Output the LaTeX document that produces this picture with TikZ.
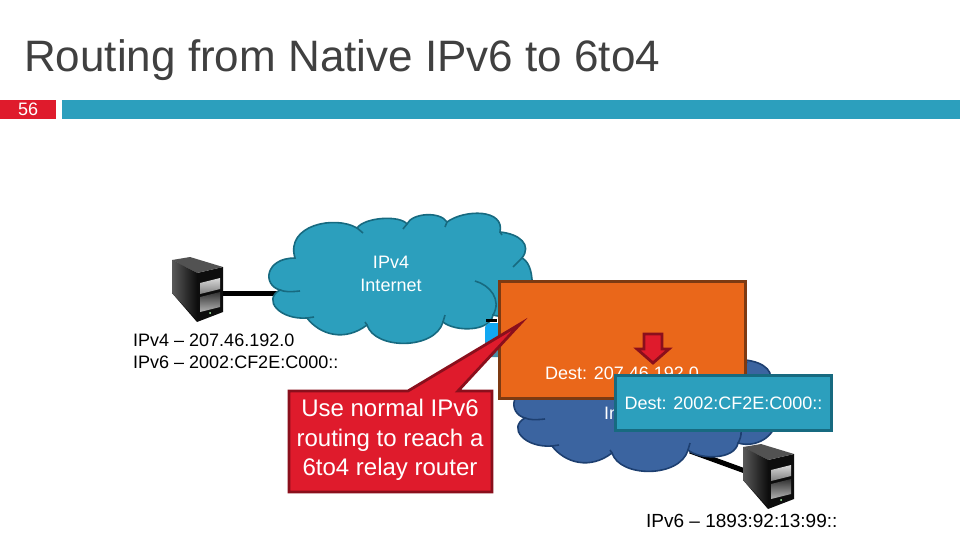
\documentclass[tikz,border=0pt]{standalone}
\usepackage{fontspec}
\setmainfont{Liberation Sans}
\usepackage{xcolor}
\usetikzlibrary{positioning,backgrounds,calc}
\definecolor{titlegray}{HTML}{404040}
\definecolor{tagred}{HTML}{DF1B2C}
\definecolor{tagdark}{HTML}{8A0F1C}
\definecolor{teal}{HTML}{2C9FBD}
\definecolor{tealdark}{HTML}{176A80}
\definecolor{navy}{HTML}{3B64A0}
\definecolor{navydark}{HTML}{1D3F70}
\definecolor{orange}{HTML}{EA671A}
\definecolor{orangedark}{HTML}{7D3A12}
\definecolor{routerblue}{HTML}{12A8F2}
\definecolor{routerbody}{HTML}{4C8EA6}
\newcommand{\netcloud}[3]{%
  \begin{scope}[shift={#1}]
    \filldraw[fill=#2,draw=#3,line width=1.6pt]
      (295,258) .. controls (285,225) and (335,215) .. (357,228)
      .. controls (365,217) and (400,215) .. (407,224)
      .. controls (412,213) and (440,211) .. (447,222)
      .. controls (465,209) and (505,209) .. (500,232)
      .. controls (520,234) and (532,245) .. (522,258)
      .. controls (530,262) and (533,275) .. (532,290)
      .. controls (530,310) and (510,320) .. (493,315)
      .. controls (490,332) and (455,332) .. (443,322)
      .. controls (435,350) and (375,350) .. (367,325)
      .. controls (345,342) and (320,335) .. (307,318)
      .. controls (280,320) and (262,300) .. (280,290)
      .. controls (262,285) and (265,258) .. cycle;
    \draw[draw=#3,line width=1.6pt]
      (280,290) .. controls (285,292) and (290,292) .. (300,291)
      (357,228) -- (363,233)
      (407,224) -- (403,229)
      (447,222) -- (445,227)
      (500,232) -- (502,235)
      (513,267) -- (522,258)
      (475,281) .. controls (490,285) and (502,300) .. (493,315)
      (443,322) -- (445,315)
      (367,325) -- (365,322)
      (307,318) -- (314,317);
  \end{scope}}
\newcommand{\servericon}[1]{%
  \begin{scope}[shift={#1}]
    \fill[black!95] (172,260) -- (197,273) -- (223,267) -- (223,312) -- (197,322) -- (172,293) -- cycle;
    \fill[black!68] (172,260) -- (190,257) -- (223,267) -- (197,273) -- cycle;
    \shade[left color=black!65,right color=black!95] (172,260) -- (197,273) -- (197,320) -- (172,293) -- cycle;
    \shade[top color=black!15,bottom color=black!50] (200,283) -- (220,278) -- (220,289) -- (200,294) -- cycle;
    \shade[top color=black!80,bottom color=black!30] (200,297) -- (220,292) -- (220,307) -- (200,312) -- cycle;
    \fill[green!30!white] (210,313) circle (1pt);
  \end{scope}}
\begin{document}
\begin{tikzpicture}[x=1pt,y=-1pt,
  titletext/.style={font=\fontsize{44}{44}\selectfont,text=titlegray,anchor=west,inner sep=0pt},
  headbar/.style={fill=teal,inner sep=0pt,anchor=north west},
  cloudtext/.style={font=\fontsize{18}{23}\selectfont,text=white,align=center,inner sep=0pt},
  addr/.style={font=\fontsize{18}{22}\selectfont,text=black,align=left,anchor=west,inner sep=0pt},
  dest/.style={font=\fontsize{18}{20}\selectfont,text=white,inner sep=0pt}
]
\useasboundingbox (0,0) rectangle (960,540);
% header
\node[titletext] (title) at (24,60) {Routing from Native IPv6 to 6to4};
\node[headbar,fill=tagred,minimum width=56pt,minimum height=19pt,font=\fontsize{18}{18}\selectfont,text=white] (tag) at (0,100) {56};
\node[headbar,minimum width=898pt,minimum height=19pt] (bar) at (62,100) {};
% clouds
\netcloud{(0,0)}{teal}{tealdark}
\netcloud{(245,128)}{navy}{navydark}
\node[cloudtext] (cloudfour) at (391,274) {IPv4\\Internet};
\node[cloudtext,anchor=west] (cloudsix) at (604,413) {Internet};
% servers
\servericon{(0,0)}
\servericon{(571,187)}
\coordinate (srvfour) at (220,293);
\coordinate (srvsix) at (745,471);
\coordinate (srvsixend) at (690,451);
\coordinate (routerleft) at (486,320);
\coordinate (routerright) at (497,320);
\coordinate (notetip) at (520,324);
% router behind the orange box
\node[fill=routerbody,rounded corners=5pt,minimum width=30pt,minimum height=34pt,inner sep=0pt] (routerbase) at (500,340) {};
\node[fill=routerblue,rounded corners=6pt,minimum width=30pt,minimum height=22pt,inner sep=0pt] (routertop) at (500,334) {};
\begin{scope}[on background layer]
  \fill[white] (0,0) rectangle (960,540);
  \draw[draw=black,line width=5pt] (srvfour) -- (srvfour -| cloudfour);
  \draw[draw=black,line width=5pt] (srvsix) -- (srvsixend);
\end{scope}
\draw[draw=black,line width=3pt] (routerleft) -- (routerright);
% labels
\node[addr] (addrfour) at (133,351) {IPv4 -- 207.46.192.0\\IPv6 -- 2002:CF2E:C000::};
\node[addr,font=\fontsize{19}{22}\selectfont] (addrsix) at (646,521) {IPv6 -- 1893:92:13:99::};
% packet boxes
\node[fill=orange,draw=orangedark,line width=2.8pt,minimum width=246pt,minimum height=117pt,inner sep=0pt] (pktfour) at (622.5,340) {};
\filldraw[fill=tagred,draw=tagdark,line width=2.8pt]
  (289,391) -- (408,391) -- (notetip) -- (458,391) -- (492,391) -- (492,492) -- (289,492) -- cycle;
\node[font=\fontsize{24}{29.5}\selectfont,text=white,align=center,inner sep=0pt] (note) at (390,440) {Use normal IPv6\\routing to reach a\\6to4 relay router};
\filldraw[fill=tagred,draw=tagdark,line width=2.8pt]
  (644,334) -- (662,334) -- (662,349) -- (669,349) -- (653,363) -- (637,349) -- (644,349) -- cycle;
\node[dest] (destfour) at (622,373) {Dest: 207.46.192.0};
\node[dest,fill=teal,draw=tealdark,line width=2.8pt,minimum width=216pt,minimum height=55pt] (destsix) at (723.5,403) {Dest: 2002:CF2E:C000::};
\end{tikzpicture}
\end{document}
